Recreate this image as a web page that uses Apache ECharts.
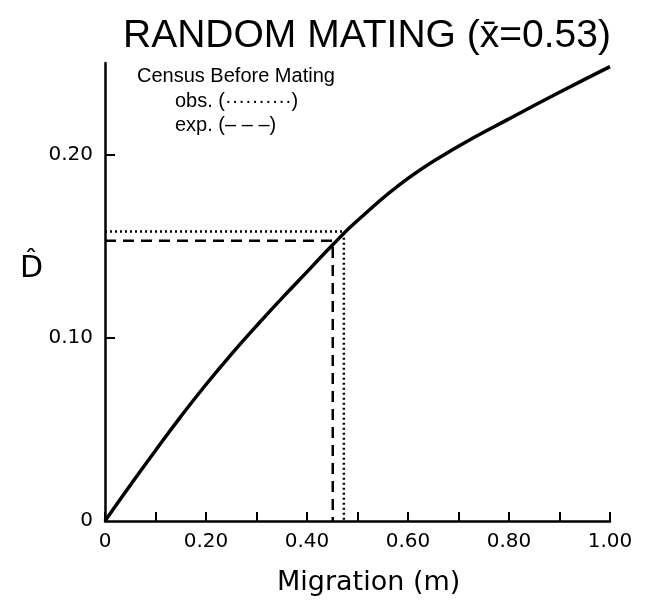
<!DOCTYPE html>
<html>
<head>
<meta charset="utf-8">
<script src="https://cdn.jsdelivr.net/npm/echarts@6/dist/echarts.min.js"></script>
<style>
  html, body { margin: 0; padding: 0; background: #fff; }
  #chart { width: 645px; height: 603px; }
</style>
</head>
<body>
<div id="chart"></div>
<script>
// ---- Data ----
const migration = [0, 0.05, 0.10, 0.15, 0.20, 0.25, 0.30, 0.35, 0.40, 0.45, 0.50, 0.60, 0.70, 0.80, 0.90, 1.00];
const dHat      = [0, 0.0195, 0.0385, 0.057, 0.0745, 0.091, 0.1065, 0.1215, 0.136, 0.1505, 0.164, 0.187, 0.2045, 0.2195, 0.234, 0.248];

// Census before mating: observed and expected
const obsM = 0.473, obsD = 0.158;
const expM = 0.451, expD = 0.153;

const xTickValues  = [0, 0.1, 0.2, 0.3, 0.4, 0.5, 0.6, 0.7, 0.8, 0.9, 1.0];
const xLabelValues = [0, 0.2, 0.4, 0.6, 0.8, 1.0];
const yTickValues  = [0.1, 0.2];
const yLabelValues = [0, 0.1, 0.2];

const titleText  = 'RANDOM MATING (x\u0304=0.53)';
const xAxisTitle = 'Migration (m)';
const yAxisTitle = 'D\u0302';
const legendHead = 'Census Before Mating';
const legendObs  = 'obs. (\u00b7\u00b7\u00b7\u00b7\u00b7\u00b7\u00b7\u00b7\u00b7\u00b7)';
const legendExp  = 'exp. (\u2013 \u2013 \u2013)';

// ---- Chart ----
const fmt = v => (v === 0 ? '0' : v.toFixed(2));
const chart = echarts.init(document.getElementById('chart'), null, { renderer: 'canvas' });

chart.setOption({
  animation: false,
  backgroundColor: '#fff',
  title: {
    text: titleText,
    left: 118, top: 12,
    textStyle: { fontFamily: 'Liberation Sans', fontSize: 39, fontWeight: 'normal', color: '#000' }
  },
  grid: { left: 105, right: 35, top: 63, bottom: 82, containLabel: false },
  xAxis: {
    type: 'value', min: 0, max: 1,
    axisLine: { show: true, lineStyle: { color: '#000', width: 2.5 } },
    axisTick: { show: true, inside: true, length: 9, customValues: xTickValues, lineStyle: { color: '#000', width: 2 } },
    axisLabel: { customValues: xLabelValues, formatter: fmt, margin: 11, color: '#000',
                 fontFamily: 'DejaVu Sans', fontSize: 20 },
    splitLine: { show: false }
  },
  yAxis: {
    type: 'value', min: 0, max: 0.25,
    axisLine: { show: true, lineStyle: { color: '#000', width: 2.5 } },
    axisTick: { show: true, inside: true, length: 10, customValues: yTickValues, lineStyle: { color: '#000', width: 2 } },
    axisLabel: { customValues: yLabelValues, formatter: fmt, margin: 12, color: '#000',
                 fontFamily: 'DejaVu Sans', fontSize: 20 },
    splitLine: { show: false }
  },
  graphic: [
    { type: 'text', left: 137, top: 66, style: { text: legendHead, fill: '#000', font: '20px "Liberation Sans"' } },
    { type: 'text', left: 175, top: 91, style: { text: legendObs, fill: '#000', font: '20px "Liberation Sans"' } },
    { type: 'text', left: 175, top: 115, style: { text: legendExp, fill: '#000', font: '20px "Liberation Sans"' } },
    { type: 'text', left: 20, top: 254, style: { text: yAxisTitle, fill: '#000', font: '30px "DejaVu Sans"' } },
    { type: 'text', left: 277, top: 569, style: { text: xAxisTitle, fill: '#000', font: '27px "DejaVu Sans"' } }
  ],
  series: [
    {
      type: 'line', name: 'D', showSymbol: false, smooth: true,
      data: migration.map((m, i) => [m, dHat[i]]),
      lineStyle: { color: '#000', width: 3.5 }
    },
    {
      type: 'line', name: 'obs', showSymbol: false,
      data: [[0, obsD], [obsM, obsD], [obsM, 0]],
      lineStyle: { color: '#000', width: 2.5, type: [2, 3] }
    },
    {
      type: 'line', name: 'exp', showSymbol: false,
      data: [[0, expD], [expM, expD], [expM, 0]],
      lineStyle: { color: '#000', width: 2.5, type: [11, 7] }
    }
  ]
});
</script>
</body>
</html>
